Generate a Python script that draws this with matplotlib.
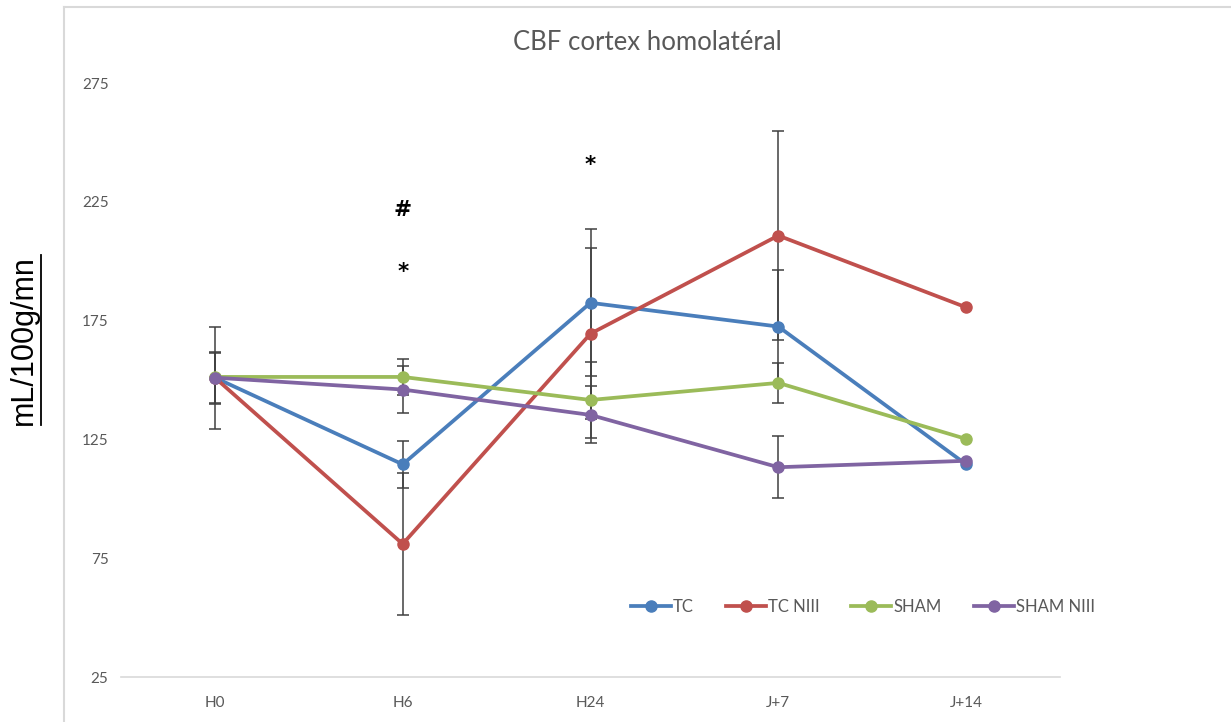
import numpy as np
import matplotlib
matplotlib.use("Agg")
import matplotlib.pyplot as plt
from matplotlib.lines import Line2D

# ------------------- Data -------------------
timepoints = ["H0", "H6", "H24", "J+7", "J+14"]
series_names = ["TC", "TC NIII", "SHAM", "SHAM NIII"]

tc = [151, 114.5, 182.5, 172.5, 114.5]
tc_niii = [151, 81, 169.5, 210.8, 180.6]
sham = [151.3, 151.3, 141.6, 148.8, 125.2]
sham_niii = [151, 146, 135.3, 113.3, 116]

# standard deviations (0 = no bar shown)
tc_err = [21.5, 10, 31, 24, 0]
tc_niii_err = [10.5, 30, 36, 44, 0]
sham_err = [0, 7.5, 16, 8.5, 0]
sham_niii_err = [11, 10, 12, 13, 0]

# significance marks: (timepoint index, y value, symbol)
marks = [(1, 221.5, "#"), (1, 195.3, "*"), (2, 240.3, "*")]

colors = ["#4A7EBB", "#C0504D", "#9BBB59", "#8064A2"]

# ------------------- Figure -------------------
fig = plt.figure(figsize=(12.31, 7.22), dpi=100)
ax = fig.add_axes([0.0983, 0.0623, 0.7628, 0.8227])

x = np.arange(len(timepoints))
all_vals = [tc, tc_niii, sham, sham_niii]
all_errs = [tc_err, tc_niii_err, sham_err, sham_niii_err]

for vals, errs in zip(all_vals, all_errs):
    vals = np.array(vals, dtype=float)
    errs = np.array(errs, dtype=float)
    m = errs > 0
    ax.errorbar(x[m], vals[m], yerr=errs[m], fmt="none", ecolor="#404040",
                elinewidth=1.1, capsize=4.5, capthick=1.1, zorder=2)

for vals, name, c in zip(all_vals, series_names, colors):
    ax.plot(x, vals, color=c, lw=2.7, marker="o", markersize=8,
            label=name, zorder=3)

for i, yv, sym in marks:
    ax.text(x[i], yv, sym, ha="center", va="center", fontsize=15.5,
            fontweight="bold", color="black", family="DejaVu Sans")

ax.set_xlim(-0.5, 4.5)
ax.set_ylim(25, 275)
ax.set_yticks(np.arange(25, 276, 50))
ax.set_xticks(x)
ax.set_xticklabels(timepoints)
ax.tick_params(axis="both", length=0, labelsize=11, labelcolor="#595959",
               labelfontfamily="Lato")
ax.tick_params(axis="x", pad=14)
ax.tick_params(axis="y", pad=9)
for s in ["top", "right", "left"]:
    ax.spines[s].set_visible(False)
ax.spines["bottom"].set_color("#D9D9D9")
ax.spines["bottom"].set_linewidth(1.2)

fig.text(0.526, 0.941, "CBF cortex homolatéral", ha="center", va="center",
         fontsize=18.5, color="#595959", family="Lato")

leg = ax.legend(loc="center", ncol=4, frameon=False, handlelength=2.4,
                columnspacing=1.9, handletextpad=0.15,
                prop={"family": "Lato", "size": 12})
for t in leg.get_texts():
    t.set_color("#595959")
leg.set_bbox_to_anchor((0.701, 1 - 607 / 722), transform=fig.transFigure)

# chart frame (left and top edges)
fig.add_artist(Line2D([64 / 1231, 64 / 1231], [0, 1 - 7 / 722], color="#D9D9D9", lw=1.5))
fig.add_artist(Line2D([64 / 1231, 1], [1 - 7 / 722, 1 - 7 / 722], color="#D9D9D9", lw=1.5))

# underlined axis label
ylab = fig.text(24 / 1231, 1 - 340 / 722, "mL/100g/mn", rotation=90, ha="center",
                va="center", fontsize=22, color="black", family="Liberation Sans")
fig.canvas.draw()
bb = ylab.get_window_extent().transformed(fig.transFigure.inverted())
ux = bb.x1 + 1.5 / 1231
fig.add_artist(Line2D([ux, ux], [bb.y0, bb.y1], color="black", lw=1.3))

fig.savefig("out.png", dpi=100, facecolor="white")
